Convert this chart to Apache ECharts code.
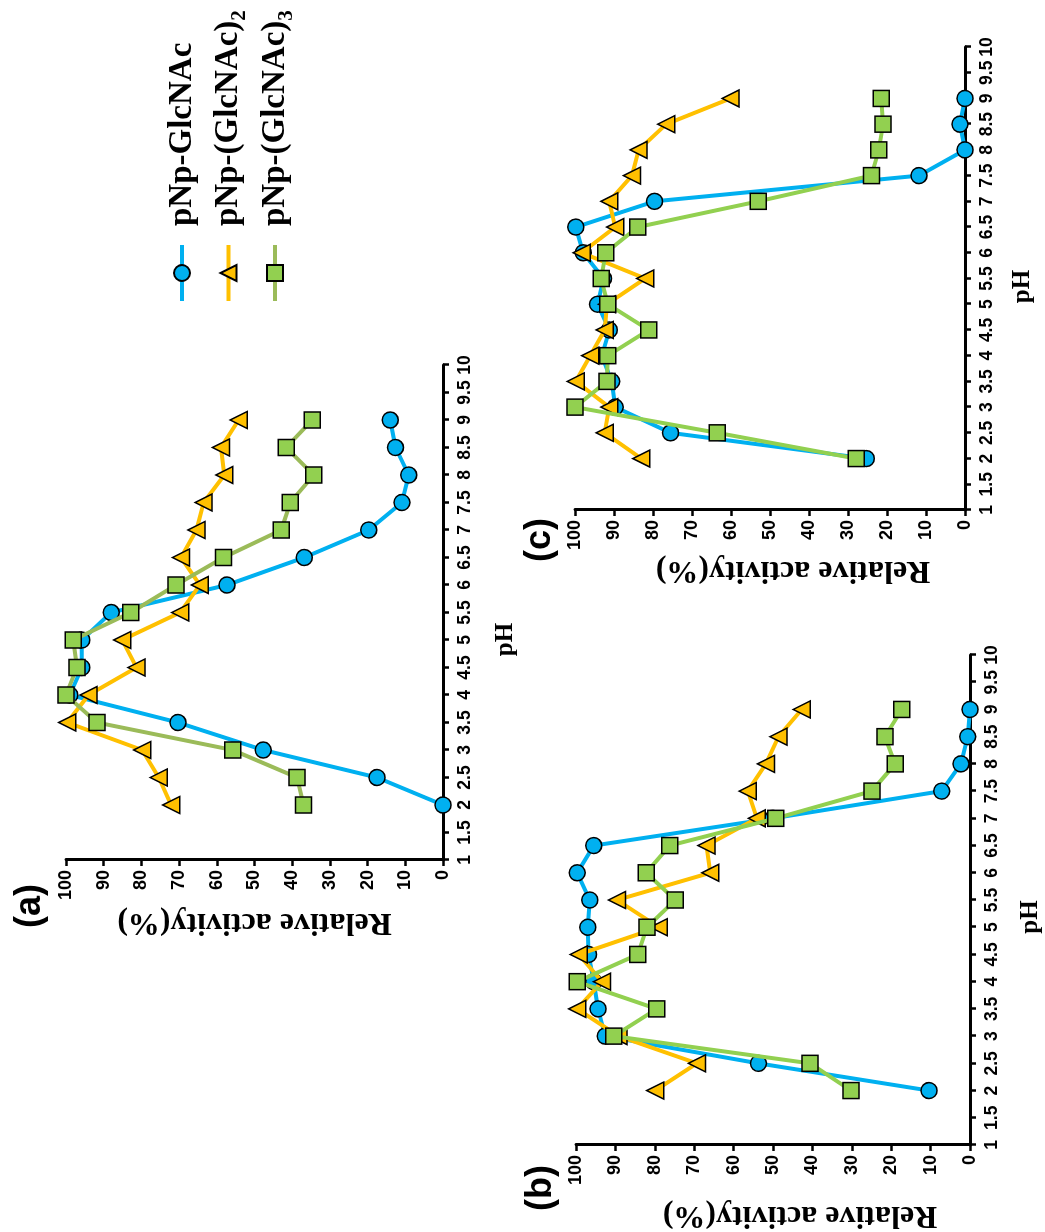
<!DOCTYPE html>
<html>
<head>
<meta charset="utf-8">
<title>Relative activity vs pH</title>
<script src="https://cdn.jsdelivr.net/npm/echarts@6/dist/echarts.min.js"></script>
<style>
  html, body { margin: 0; padding: 0; width: 1045px; height: 1232px; overflow: hidden; background: #fff; }
  /* The figure is laid out landscape (1232 x 1045) and turned a quarter turn counter-clockwise. */
  #chart {
    position: absolute; left: 0; top: 0;
    width: 1232px; height: 1045px;
    transform-origin: 0 0;
    transform: translate(0, 1232px) rotate(-90deg);
  }
</style>
</head>
<body>
<div id="chart"></div>
<script>
// pH values at which activity was measured
const pH = [2, 2.5, 3, 3.5, 4, 4.5, 5, 5.5, 6, 6.5, 7, 7.5, 8, 8.5, 9];

// substrate names (legend)
const substrates = ['pNp-GlcNAc', 'pNp-(GlcNAc)2', 'pNp-(GlcNAc)3'];

// panel (a) relative activity, %
const aGlcNAc  = [0, 17.5, 47.7, 70.3, 99, 95.8, 95.8, 88, 57.3, 36.8, 19.7, 10.9, 9.1, 12.6, 14.0];
const aGlcNAc2 = [72.1, 75.4, 79.8, 99.7, 94, 81.3, 85.1, 69.7, 64.5, 69.5, 65.4, 63.5, 58, 58.9, 54.2];
const aGlcNAc3 = [37, 38.7, 55.8, 91.8, 100, 97.1, 98.1, 82.8, 70.8, 58.2, 42.9, 40.5, 34.3, 41.6, 34.7];

// panel (b) relative activity, %
const bGlcNAc  = [10.4, 53.7, 92.6, 94.4, 95.5, 96.8, 97, 96.5, 99.7, 95.5, 50, 7.2, 2.3, 0.6, 0];
const bGlcNAc2 = [79.9, 69.3, 89.2, 99.7, 93.4, 99.3, 79, 89.6, 65.9, 66.9, 54.1, 56.4, 51.8, 48.6, 42.7];
const bGlcNAc3 = [30.2, 40.6, 90.4, 79.5, 99.7, 84.3, 82, 74.8, 82.2, 76.2, 49.3, 24.9, 19, 21.6, 17.3];

// panel (c) relative activity, %
const cGlcNAc  = [25.3, 75.5, 89.7, 90.6, 93.1, 91.2, 94.2, 92.7, 97.9, 99.8, 79.6, 11.8, 0, 1.3, 0];
const cGlcNAc2 = [83, 92.4, 91.2, 99.8, 96.1, 92.4, 91.8, 82, 98.3, 89.7, 91.2, 85.4, 83.7, 76.6, 60.1];
const cGlcNAc3 = [27.9, 63.5, 100, 91.8, 91.6, 81.1, 91.6, 93.3, 92.1, 83.9, 53, 24, 22.1, 21, 21.5];

// axis ranges: [min, max, interval]
const pHRange = [1, 10, 0.5];
const activityRange = [0, 100, 10];

const panelLabels = ['(a)', '(b)', '(c)'];

const SERIF = '"Liberation Serif", "Times New Roman", serif';
const SANS = '"Liberation Sans", Arial, sans-serif';

const BLUE = '#00B0F0', ORANGE = '#FFC000', GREEN_FILL = '#92D050';

const panels = [
  { grid: { left: 372, top: 66, width: 495, height: 377 }, data: [aGlcNAc, aGlcNAc2, aGlcNAc3], green: '#9BBB59',
    yGap: 46, yPad: [0, 0, 0, 0], xGap: 50, xPad: [0, 54, 0, 0], label: [326, 30] },
  { grid: { left: 87, top: 576, width: 490, height: 394 }, data: [bGlcNAc, bGlcNAc2, bGlcNAc3], green: '#92D050',
    yGap: 54, yPad: [0, 54, 0, 0], xGap: 48, xPad: [0, 34, 0, 0], label: [44, 541] },
  { grid: { left: 722, top: 575, width: 463, height: 390 }, data: [cGlcNAc, cGlcNAc2, cGlcNAc3], green: '#92D050',
    yGap: 42, yPad: [0, 46, 0, 0], xGap: 45, xPad: [0, 16, 0, 0], label: [692, 540] }
];

const axisLine = { show: true, onZero: false, lineStyle: { color: '#000', width: 3 } };
const axisTick = { show: true, inside: false, length: 6, lineStyle: { color: '#000', width: 2.5 } };

const grids = [], xAxes = [], yAxes = [], series = [], graphics = [];

panels.forEach((p, i) => {
  grids.push(p.grid);
  xAxes.push({
    gridIndex: i, type: 'value', min: pHRange[0], max: pHRange[1], interval: pHRange[2],
    axisLine, axisTick, splitLine: { show: false },
    axisLabel: { color: '#000', fontFamily: SANS, fontWeight: 'bold', fontSize: 17.5, margin: 13,
                 showMinLabel: true, showMaxLabel: true, hideOverlap: false,
                 formatter: v => String(v) },
    name: 'pH', nameLocation: 'middle', nameGap: p.xGap,
    nameTextStyle: { color: '#000', fontFamily: SERIF, fontWeight: 'bold', fontSize: 25, padding: p.xPad }
  });
  yAxes.push({
    gridIndex: i, type: 'value', min: activityRange[0], max: activityRange[1], interval: activityRange[2],
    axisLine, axisTick, splitLine: { show: false },
    axisLabel: { color: '#000', fontFamily: SANS, fontWeight: 'bold', fontSize: 18, margin: 10,
                 showMinLabel: true, showMaxLabel: true },
    name: 'Relative activity(%)', nameLocation: 'middle', nameGap: p.yGap,
    nameTextStyle: { color: '#000', fontFamily: SERIF, fontWeight: 'bold', fontSize: 32, padding: p.yPad }
  });

  const styles = [
    { symbol: 'circle', fill: BLUE, line: BLUE },
    { symbol: 'triangle', fill: ORANGE, line: ORANGE },
    { symbol: 'rect', fill: GREEN_FILL, line: p.green }
  ];
  p.data.forEach((vals, k) => {
    series.push({
      name: substrates[k], type: 'line', xAxisIndex: i, yAxisIndex: i,
      data: pH.map((x, j) => [x, vals[j]]),
      symbol: styles[k].symbol, symbolSize: k === 1 ? 17 : 16, showAllSymbol: true,
      itemStyle: { color: styles[k].fill, borderColor: '#000', borderWidth: 1.5 },
      lineStyle: { color: styles[k].line, width: 4 },
      z: 2 + k
    });
  });

  graphics.push({
    type: 'text', x: p.label[0], y: p.label[1],
    style: { text: panelLabels[i], fill: '#000', font: 'bold 36px ' + SANS,
             textAlign: 'center', textVerticalAlign: 'middle' }
  });
});

const chart = echarts.init(document.getElementById('chart'), null, { width: 1232, height: 1045 });
chart.setOption({
  animation: false,
  backgroundColor: '#fff',
  grid: grids,
  xAxis: xAxes,
  yAxis: yAxes,
  series,
  graphic: graphics,
  legend: {
    data: substrates, orient: 'vertical', left: 924, top: 155,
    itemWidth: 56, itemHeight: 20, itemGap: 2.5,
    lineStyle: { width: 4 },
    formatter: name => name.replace(/\)(\d)$/, '){s|$1}'),
    textStyle: {
      color: '#000', fontFamily: SERIF, fontWeight: 'bold', fontSize: 33, lineHeight: 44,
      padding: [0, 0, 0, 14],
      rich: { s: { color: '#000', fontFamily: SERIF, fontWeight: 'bold', fontSize: 21, lineHeight: 44, verticalAlign: 'bottom' } }
    }
  }
});
</script>
</body>
</html>
